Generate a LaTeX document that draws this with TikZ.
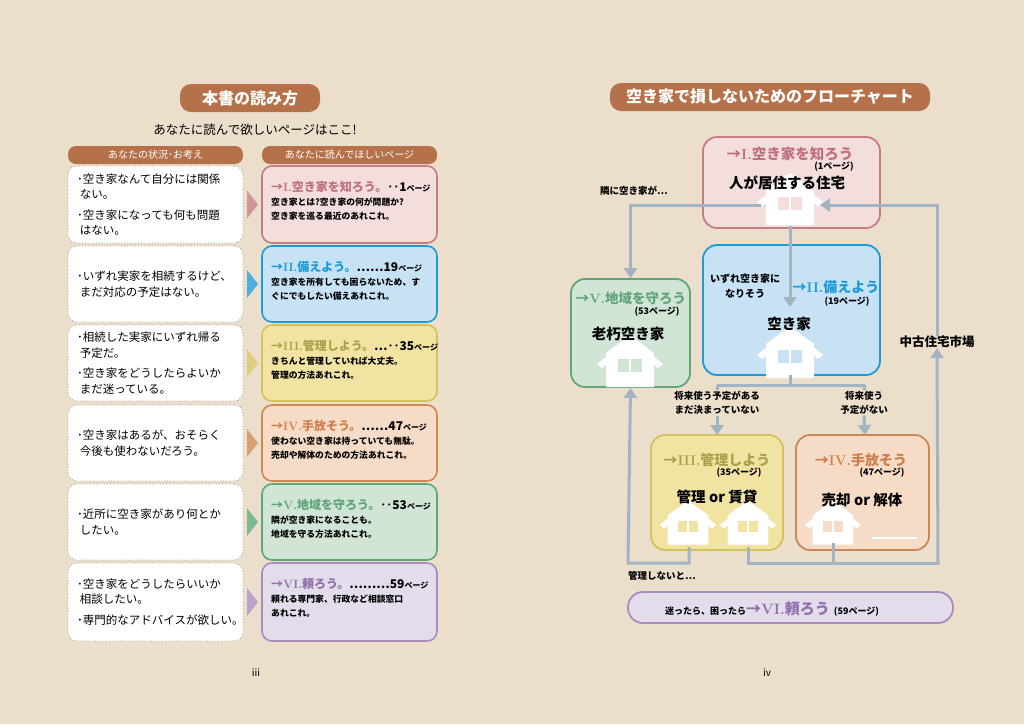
\documentclass[tikz,border=0pt]{standalone}
\usepackage{fontspec}
\setmainfont{Noto Sans CJK JP}
\newfontfamily\lmr{Latin Modern Roman}
\newcommand\rn[1]{{\lmr\bfseries #1}}
\usetikzlibrary{arrows.meta}
\definecolor{bg}{HTML}{EBDECB}
\definecolor{brn}{HTML}{B5724A}
\definecolor{cnc}{HTML}{A2B3C3}
\definecolor{pkF}{HTML}{F3DEDD}\definecolor{pkB}{HTML}{C67C80}\definecolor{pkT}{HTML}{C0707A}
\definecolor{blF}{HTML}{C6E2F4}\definecolor{blB}{HTML}{1E9AD6}\definecolor{blT}{HTML}{1E9AD6}
\definecolor{ylF}{HTML}{F1E4A2}\definecolor{ylB}{HTML}{D3C25C}\definecolor{ylT}{HTML}{ADA04A}
\definecolor{orF}{HTML}{F6DCC7}\definecolor{orB}{HTML}{CF8752}\definecolor{orT}{HTML}{D07E4C}
\definecolor{gnF}{HTML}{D1E5D6}\definecolor{gnB}{HTML}{5FA777}\definecolor{gnT}{HTML}{5FA47A}
\definecolor{ppF}{HTML}{E3DCEA}\definecolor{ppB}{HTML}{A98BBE}\definecolor{ppT}{HTML}{9270AC}
\tikzset{
 pill/.style={fill=brn,rounded corners=11pt,text=white,inner sep=0pt},
 lbox/.style={draw=gray!80,dotted,line width=0.8pt,fill=white,rounded corners=9pt,minimum width=175pt,inner sep=0pt},
 rbox/.style={line width=1.6pt,rounded corners=10pt,minimum width=175pt,inner sep=0pt},
 fbox/.style={line width=1.8pt,rounded corners=14pt,inner sep=0pt},
 con/.style={draw=cnc,line width=3pt},
 arr/.style={con,-{Triangle[width=13pt,length=10pt]}},
 txt/.style={inner sep=0pt,font=\bfseries\fontsize{10}{12}\selectfont,align=center},
}
\newcommand\ptt[1]{\fontsize{8}{9}\selectfont #1}
% house: cx, apex y, window colour, scale
\newcommand\myhouse[4]{%
 \begin{scope}[shift={(#1,#2)},scale=#4]
 \fill[white] (0,0) -- (-33,27) -- (-28,31) -- (0,8) -- (28,31) -- (33,27) -- cycle;
 \fill[white] (-24,16) -- (0,-2) -- (24,16) -- (24,50) -- (-24,50) -- cycle;
 \fill[#3] (-12,22) rectangle (-1,35);
 \fill[#3] (1,22) rectangle (12,35);
 \end{scope}}
\newcommand\lrow[8]{%
 \node[lbox,minimum height={(#3-#2)*1pt}] (L#1) at (155.5,{(#2+#3)/2}) {};
 \node[anchor=west,align=left,inner sep=0pt,font=\fontsize{11.5}{15.5}\selectfont] (LT#1) at (77,{(#2+#3)/2}) {#5};
 \node[rbox,draw=#4B,fill=#4F,minimum height={(#3-#2)*1pt}] (R#1) at (349.5,{(#2+#3)/2}) {};
 \fill[#4B!80] (247,{(#2+#3)/2-14}) -- (258,{(#2+#3)/2}) -- (247,{(#2+#3)/2+14}) -- cycle;
 \node[anchor=west,inner sep=0pt,font=\bfseries\fontsize{12}{13}\selectfont] (RT#1) at (271,#2+21) {\textcolor{#4T}{#6}#7};
 \node[anchor=north west,inner sep=0pt,align=left,font=\bfseries\fontsize{8.8}{14}\selectfont] (RB#1) at (271,#2+32) {#8};}
\begin{document}
\begin{tikzpicture}[x=1pt,y=-1pt]
\fill[bg] (0,0) rectangle (1024,724);
\useasboundingbox (0,0) rectangle (1024,724);
% ---------- left page
\node[pill,minimum width=140pt,minimum height=28pt,font=\bfseries\fontsize{16}{18}\selectfont] (t1) at (250,98) {本書の読み方};
\node[txt,font=\fontsize{12.5}{14}\selectfont] (st) at (255,130) {あなたに読んで欲しいページはここ!};
\node[pill,rounded corners=8pt,minimum width=175pt,minimum height=18pt,font=\fontsize{10}{11}\selectfont] (h1) at (155.5,155) {あなたの状況･お考え};
\node[pill,rounded corners=8pt,minimum width=175pt,minimum height=18pt,font=\fontsize{10}{11}\selectfont] (h2) at (349.5,155) {あなたに読んでほしいページ};
\lrow{1}{166}{243}{pk}{･空き家なんて自分には関係\\\ ない。\\[5pt]･空き家になっても何も問題\\\ はない。}{→\rn{I.}空き家を知ろう。}{‥1\ptt{ページ}}{空き家とは?空き家の何が問題か?\\空き家を巡る最近のあれこれ。}
\lrow{2}{246}{322}{bl}{･いずれ実家を相続するけど、\\\ まだ対応の予定はない。}{→\rn{II.}備えよう。}{……19\ptt{ページ}}{空き家を所有しても困らないため、す\\ぐにでもしたい備えあれこれ。}
\lrow{3}{325}{401}{yl}{･相続した実家にいずれ帰る\\\ 予定だ。\\[5pt]･空き家をどうしたらよいか\\\ まだ迷っている。}{→\rn{III.}管理しよう。}{…‥35\ptt{ページ}}{きちんと管理していれば大丈夫。\\管理の方法あれこれ。}
\lrow{4}{405}{481}{or}{･空き家はあるが、おそらく\\\ 今後も使わないだろう。}{→\rn{IV.}手放そう。}{……47\ptt{ページ}}{使わない空き家は持っていても無駄。\\売却や解体のための方法あれこれ。}
\lrow{5}{484}{560}{gn}{･近所に空き家があり何とか\\\ したい。}{→\rn{V.}地域を守ろう。}{‥53\ptt{ページ}}{隣が空き家になることも。\\地域を守る方法あれこれ。}
\lrow{6}{563}{641}{pp}{･空き家をどうしたらいいか\\\ 相談したい。\\[5pt]･専門的なアドバイスが欲しい。}{→\rn{VI.}頼ろう。}{………59\ptt{ページ}}{頼れる専門家、行政など相談窓口\\あれこれ。}
\node[font=\fontsize{10}{11}\selectfont] (p3) at (256,673) {iii};
\node[font=\fontsize{10}{11}\selectfont] (p4) at (767,673) {iv};
% ---------- right page
\node[pill,minimum width=320pt,minimum height=28pt,font=\bfseries\fontsize{16}{18}\selectfont] (t2) at (770,97) {空き家で損しないためのフローチャート};
\node[fbox,draw=pkB,fill=pkF,minimum width=177pt,minimum height=91pt] (B1) at (791.5,182.5) {};
\node[fbox,draw=blB,fill=blF,minimum width=177pt,minimum height=130pt] (B2) at (791.5,310) {};
\node[fbox,draw=gnB,fill=gnF,minimum width=119pt,minimum height=108pt] (B5) at (630.5,333) {};
\node[fbox,draw=ylB,fill=ylF,minimum width=132pt,minimum height=115pt] (B3) at (717,492.5) {};
\node[fbox,draw=orB,fill=orF,minimum width=133pt,minimum height=115pt] (B4) at (862.5,492.5) {};
\node[fbox,draw=ppB,fill=ppF,rounded corners=15pt,minimum width=325pt,minimum height=31pt] (B6) at (790.5,607.5) {};
% houses
\myhouse{790}{175}{pkF}{1}
\myhouse{790}{328}{blF}{1}
\myhouse{630}{337}{gnF}{1}
\myhouse{688}{502}{ylF}{0.85}
\myhouse{748}{502}{ylF}{0.85}
\myhouse{833}{502}{orF}{0.85}
\draw[white,line width=2.5pt] (872,538) -- (917,538);
% box texts
\node[txt,text=pkT,font=\bfseries\fontsize{14.5}{16}\selectfont] (n1t) at (790,154) {→\rn{I.}空き家を知ろう};
\node[txt,font=\bfseries\fontsize{9}{10}\selectfont] (n1p) at (834,167) {(1ページ)};
\node[txt,font=\bfseries\fontsize{14.5}{16}\selectfont] (n1) at (787,183) {人が居住する住宅};
\node[txt,text=blT,font=\bfseries\fontsize{14}{16}\selectfont] (n2t) at (836,287) {→\rn{II.}備えよう};
\node[txt,font=\bfseries\fontsize{9}{10}\selectfont] (n2p) at (847,302) {(19ページ)};
\node[txt,font=\bfseries\fontsize{14.5}{16}\selectfont] (n2) at (789,324) {空き家};
\node[txt,font=\bfseries\fontsize{10}{15}\selectfont] (n2a) at (745,286) {いずれ空き家に\\なりそう};
\node[txt,text=gnT,font=\bfseries\fontsize{13.5}{16}\selectfont] (n5t) at (631,298) {→\rn{V.}地域を守ろう};
\node[txt,font=\bfseries\fontsize{9}{10}\selectfont] (n5p) at (657,312) {(53ページ)};
\node[txt,font=\bfseries\fontsize{14.5}{16}\selectfont] (n5) at (628,334) {老朽空き家};
\node[txt,text=ylT,font=\bfseries\fontsize{14}{16}\selectfont] (n3t) at (717,460) {→\rn{III.}管理しよう};
\node[txt,font=\bfseries\fontsize{9}{10}\selectfont] (n3p) at (739,473) {(35ページ)};
\node[txt,font=\bfseries\fontsize{14.5}{16}\selectfont] (n3) at (717,497) {管理 or 賃貸};
\node[txt,text=orT,font=\bfseries\fontsize{14}{16}\selectfont] (n4t) at (861,460) {→\rn{IV.}手放そう};
\node[txt,font=\bfseries\fontsize{9}{10}\selectfont] (n4p) at (882,473) {(47ページ)};
\node[txt,font=\bfseries\fontsize{14.5}{16}\selectfont] (n4) at (862,500) {売却 or 解体};
\node[txt,font=\bfseries\fontsize{9}{10}\selectfont] (n6) at (772,609) {迷ったら、困ったら\textcolor{ppT}{\fontsize{15}{16}\selectfont →\rn{VI.}頼ろう}\ \ (59ページ)};
% labels
\node[txt,font=\bfseries\fontsize{9.5}{10}\selectfont] (lb1) at (634,191) {隣に空き家が…};
\node[txt,font=\bfseries\fontsize{12.5}{14}\selectfont] (mk) at (937,342) {中古住宅市場};
\node[txt,fill=bg,inner sep=1pt,font=\bfseries\fontsize{9.5}{13.5}\selectfont] (lb2) at (717,403) {将来使う予定がある\\まだ決まっていない};
\node[txt,fill=bg,inner sep=1pt,font=\bfseries\fontsize{9.5}{13.5}\selectfont] (lb3) at (864,403) {将来使う\\予定がない};
\node[txt,font=\bfseries\fontsize{9.5}{10}\selectfont] (lb4) at (662,576) {管理しないと…};
% connectors
\coordinate (c1a) at (790,226); \coordinate (c1b) at (790,307);
\draw[arr] (c1a) -- (c1b);
\coordinate (c2a) at (761,205);
\draw[arr] (c2a) -| (B5.north);
\coordinate (c3a) at (790,375); \coordinate (c3b) at (717,385); \coordinate (c3c) at (865,385);
\draw[con] (c3a) -- (790,385);
\draw[con] (c3b) -- (c3c);
\draw[arr] (lb2.south) -- (717,435);
\draw[arr] (lb3.south) -- (865,435);
\draw[con] (c3b) -- (lb2.north);
\draw[con] (c3c) -- (lb3.north);
\coordinate (c4a) at (689,547); \coordinate (c4b) at (748,547); \coordinate (c4c) at (833,543);
\draw[arr] (c4a) |- (628,563) -- (B5.south);
\draw[con] (c4b) |- (938,563);
\draw[con] (c4c) -- (833,563);
\draw[arr] (938,564.5) -- (mk.south);
\draw[arr] (mk.north) |- (820,205);
\end{tikzpicture}
\end{document}
